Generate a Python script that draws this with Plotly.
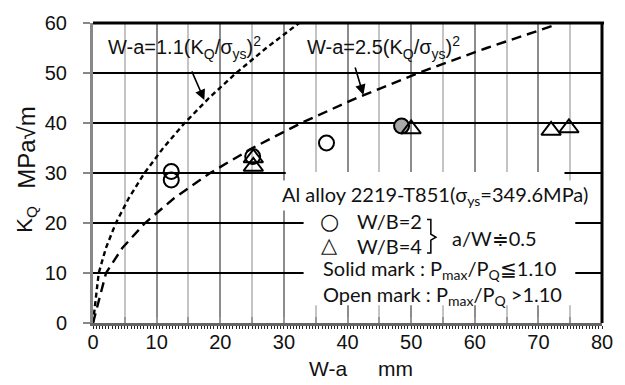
import plotly.graph_objects as go

# Data
wb2_open_x = [12.3, 12.3, 25.1, 36.7]
wb2_open_k = [30.3, 28.6, 33.3, 36.0]
wb2_solid_x = [48.5]
wb2_solid_k = [39.4]
wb4_open_x = [25.2, 25.2, 50.0, 72.0, 74.8]
wb4_open_k = [33.0, 31.3, 38.8, 38.5, 39.0]

# W-a = 1.1 (KQ/sigma_ys)^2 curve
c11_k = [0, 10, 15, 20, 25, 30, 35, 40, 45, 50, 55, 60]
c11_x = [0, 0.90, 2.03, 3.60, 5.63, 8.10, 11.03, 14.40, 18.23, 22.50, 27.23, 32.40]
# W-a = 2.5 (KQ/sigma_ys)^2 curve
c25_k = [0, 10, 15, 20, 25, 30, 35, 40, 45, 50, 55, 59.5]
c25_x = [0, 2.05, 4.60, 8.18, 12.78, 18.41, 25.06, 32.73, 41.42, 51.14, 61.88, 72.4]

x_ticks = [0, 10, 20, 30, 40, 50, 60, 70, 80]
y_ticks = [0, 10, 20, 30, 40, 50, 60]

ARIAL = "Liberation Sans, Arial, sans-serif"
CAL = "Lato, Carlito, sans-serif"
LFS = 20

PL, PB, PW, PH = 93, 323, 512, 304   # plot-area pixel frame (for paper positioning)


def px(xp):
    return (xp - PL) / PW


def py(yp):
    return (PB - yp) / PH


fig = go.Figure()
fig.add_trace(go.Scatter(x=c11_x, y=c11_k, mode="lines",
                         line=dict(color="black", width=2.4, dash="5px,3.5px"), hoverinfo="skip"))
fig.add_trace(go.Scatter(x=c25_x, y=c25_k, mode="lines",
                         line=dict(color="black", width=2.4, dash="10px,6px"), hoverinfo="skip"))
fig.add_trace(go.Scatter(x=wb2_open_x, y=wb2_open_k, mode="markers",
                         marker=dict(symbol="circle-open", size=15, color="black", line=dict(width=2))))
fig.add_trace(go.Scatter(x=wb2_solid_x, y=wb2_solid_k, mode="markers",
                         marker=dict(symbol="circle", size=15, color="#a9a9a9",
                                     line=dict(width=2, color="black"))))
fig.add_trace(go.Scatter(x=wb4_open_x, y=wb4_open_k, mode="markers",
                         marker=dict(symbol="triangle-up-open", size=17, color="black", line=dict(width=2))))
# helper trace for hatched bottom axis
fig.add_trace(go.Scatter(x=[0, 80], y=[0, 0], xaxis="x2", mode="lines",
                         line=dict(width=0), hoverinfo="skip"))

fig.update_layout(
    width=625, height=385,
    margin=dict(l=93, r=20, t=19, b=62),
    paper_bgcolor="white", plot_bgcolor="white",
    showlegend=False,
    font=dict(family=ARIAL, size=20, color="black"),
    xaxis=dict(range=[0, 80], tickvals=x_ticks, ticktext=[str(v) for v in x_ticks],
               showgrid=True, gridcolor="#8c8c8c", gridwidth=2,
               ticks="inside", ticklen=6, tickcolor="#999", tickwidth=1.5,
               minor=dict(dtick=5, showgrid=True, gridcolor="#c4c4c4", gridwidth=2,
                          ticks="inside", ticklen=6, tickcolor="#999", tickwidth=1.5),
               showline=False, zeroline=False,
               tickfont=dict(size=20, color="#111"), ticklabelstandoff=5),
    xaxis2=dict(range=[0, 80], overlaying="x", anchor="y", side="bottom",
                showgrid=False, zeroline=False, showticklabels=False,
                showline=True, linecolor="#666", linewidth=3,
                ticks="outside", dtick=0.5, ticklen=3, tickcolor="#222", tickwidth=1.2),
    yaxis=dict(range=[0, 60], tickvals=y_ticks, ticktext=[str(v) for v in y_ticks],
               showgrid=True, gridcolor="black", gridwidth=1.5,
               ticks="outside", ticklen=7, tickcolor="#888", tickwidth=2,
               showline=True, linecolor="#888", linewidth=3, zeroline=False,
               tickfont=dict(size=20, color="#111"), ticklabelstandoff=12),
)

# frame top & right
fig.add_shape(type="line", xref="paper", yref="paper", x0=0, x1=1.004, y0=1, y1=1,
              line=dict(color="black", width=3), layer="above")
fig.add_shape(type="line", xref="paper", yref="paper", x0=1, x1=1, y0=0, y1=1,
              line=dict(color="black", width=3), layer="above")

# white box behind legend text
fig.add_shape(type="rect", xref="x", yref="y", x0=30.3, x1=74.1, y0=22.7, y1=30.2,
              fillcolor="white", line=dict(width=0), layer="between")
fig.add_shape(type="rect", xref="x", yref="y", x0=33.1, x1=75.8, y0=3.55, y1=22.8,
              fillcolor="white", line=dict(width=0), layer="between")

# brace
fig.add_shape(type="path", xref="x", yref="y",
              path="M52.5,20.72 L53.1,20.72 L53.1,17.76 L53.9,17.17 L53.1,16.58 L53.1,14.01 L52.5,14.01",
              line=dict(color="black", width=1.5), layer="above")

# formula annotations
fig.add_annotation(x=14.4, y=55.2, xref="x", yref="y", showarrow=False,
                   text="W-a=1.1(K<sub>Q</sub>/σ<sub>ys</sub>)<sup>2</sup>",
                   font=dict(family=ARIAL, size=20, color="#111"))
fig.add_annotation(x=45.6, y=55.2, xref="x", yref="y", showarrow=False,
                   text="W-a=2.5(K<sub>Q</sub>/σ<sub>ys</sub>)<sup>2</sup>",
                   font=dict(family=ARIAL, size=20, color="#111"))
fig.add_annotation(x=17.5, y=44.6, xref="x", yref="y", text=" ", showarrow=True,
                   ax=-17, ay=-39, arrowhead=2, arrowsize=1.3, arrowwidth=1.6, arrowcolor="black",
                   standoff=0, startstandoff=0)
fig.add_annotation(x=42.5, y=45.6, xref="x", yref="y", text=" ", showarrow=True,
                   ax=-12, ay=-40, arrowhead=2, arrowsize=1.3, arrowwidth=1.6, arrowcolor="black",
                   standoff=0, startstandoff=0)


def ptext(x, y, text, family=CAL, size=LFS, xanchor="center", angle=0):
    fig.add_annotation(x=px(x), y=py(y), xref="paper", yref="paper", showarrow=False,
                       xanchor=xanchor, yanchor="middle", textangle=angle, text=text,
                       font=dict(family=family, size=size, color="#111"))


# legend-like text block
fig.add_annotation(x=53.8, y=25.5, xref="x", yref="y", showarrow=False, bgcolor="white",
                   text="Al alloy 2219-T851(σ<sub>ys</sub>=349.6MPa)",
                   font=dict(family=CAL, size=LFS, color="#111"))
ptext(331, 220, "○", family="DejaVu Sans", size=22)
ptext(331, 244, "△", family="DejaVu Sans", size=21)
ptext(357, 220, "W/B=2", xanchor="left")
ptext(357, 245, "W/B=4", xanchor="left")
ptext(452, 237, "a/W≑0.5", xanchor="left")
ptext(322, 269, "Solid mark : P<sub>max</sub>/P<sub>Q</sub>≦1.10", xanchor="left")
ptext(322, 295, "Open mark : P<sub>max</sub>/P<sub>Q</sub> >1.10", xanchor="left")

# axis titles
ptext(26, 145, "MPa√m", family=ARIAL, size=24, angle=-90)
ptext(26, 218, "K<sub>Q</sub>", family=ARIAL, size=22, angle=-90)
ptext(329, 369, "W-a", family=ARIAL, size=21)
ptext(397, 369, "mm", family=ARIAL, size=21)

fig.write_html("out.html")
